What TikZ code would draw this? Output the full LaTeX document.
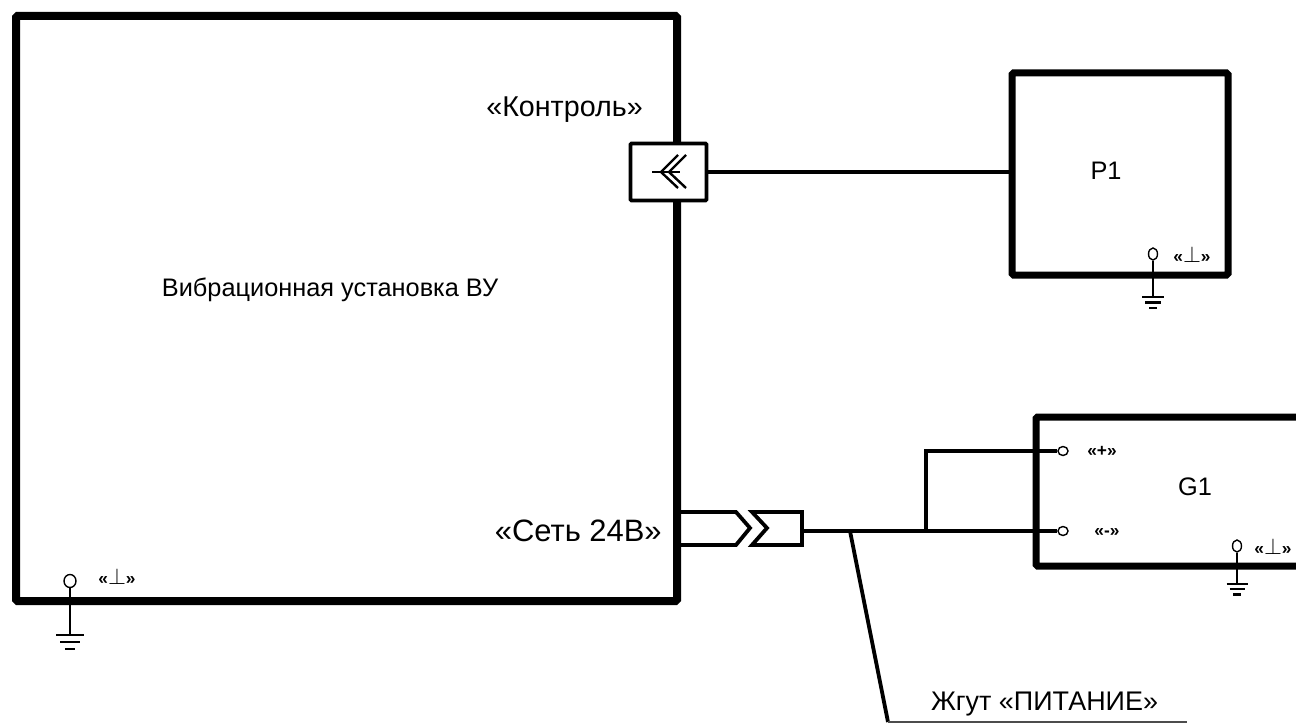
\documentclass[tikz,border=0pt]{standalone}
\usepackage{fontspec}
\usepackage{amsmath, amssymb}
\setmainfont{Liberation Sans}
\usetikzlibrary{positioning, shapes.geometric, calc}

\def\px{0.75pt}
\newcommand{\earthtag}{\textbf{«}{\fontsize{19}{19}\selectfont$\perp$}\textbf{»}}
\tikzset{
    unit/.style={draw, rectangle, line width=8*\px, rounded corners=1.5*\px},
    smallunit/.style={unit, line width=7*\px},
    wire/.style={line width=3.8*\px},
    thinwire/.style={line width=1.4*\px},
    terminal/.style={draw, ellipse, fill=white, inner sep=0pt, line width=1.4*\px},
    caption/.style={font=\fontsize{19}{22}\selectfont, inner sep=0pt},
    largecaption/.style={font=\fontsize{21.5}{24}\selectfont, inner sep=0pt},
    tag/.style={font=\fontsize{13}{15}\selectfont, inner sep=0pt}
}

\begin{document}
\begin{tikzpicture}[x=0.75pt, y=-0.75pt, line join=miter]
    \useasboundingbox (0,0) rectangle (1296,724);

    % Units
    \node[unit, minimum width=661*\px, minimum height=585*\px] (vu) at (346.5,308.5) {};
    \node[smallunit, minimum width=216*\px, minimum height=202*\px] (p1box) at (1120,174) {};
    \node[smallunit, minimum width=274*\px, minimum height=149*\px] (g1box) at (1173,491.5) {};

    % Unit labels
    \node[caption] (vulabel) at (330,290) {Вибрационная установка ВУ};
    \node[largecaption, anchor=east] (control) at (643,110) {«Контроль»};
    \node[largecaption, font=\fontsize{23.2}{26}\selectfont, anchor=east] (mains) at (662,531) {«Сеть 24В»};
    \node[caption] (p1label) at (1106,171) {P1};
    \node[caption] (g1label) at (1195,487) {G1};

    % Socket on the wall
    \node[draw, rectangle, fill=white, line width=3.8*\px, rounded corners=1*\px,
        minimum width=76*\px, minimum height=57*\px] (socket) at (668.5,172) {};
    \draw[line width=2.4*\px] (652,172) -- (680,172);
    \draw[line width=2.4*\px] (678,155) -- (661,172) -- (678,188);
    \draw[line width=2.4*\px] (686,155) -- (669,172) -- (686,188);
    \draw[wire] (socket.east) -- (socket.east -| p1box.west);

    % Plug pair
    \coordinate (plugend) at (802,531);
    \draw[wire] (vu.east |- 0,512) -- (736,512) -- (750,528) -- (736,545) -- (vu.east |- 0,545);
    \draw[wire] (752,512) -- (767,528) -- (752,545) -- (802,545) -- (802,512) -- cycle;

    % Power terminals
    \node[terminal, minimum width=10*\px, minimum height=9*\px] (plus) at (1063,451) {};
    \node[terminal, minimum width=10*\px, minimum height=9*\px] (minus) at (1063,531) {};
    \node[tag] (pluslabel) at (1102,451) {\textbf{«+»}};
    \node[tag] (minuslabel) at (1107,533) {\textbf{«-»}};

    % Wires to the supply
    \coordinate (branch) at (926,531);
    \draw[wire] (plugend) -- (minus);
    \draw[wire] (branch) -- (branch |- plus) -- (plus);

    % Harness leader
    \coordinate (leadtop) at (850,531);
    \coordinate (leadbot) at (888,722);
    \coordinate (leadend) at (1187,722);
    \draw[wire] (leadtop) -- (leadbot);
    \draw[thinwire, black!70] (leadbot) -- (leadend);
    \node[largecaption, font=\fontsize{20.2}{24}\selectfont, anchor=base] (harness) at (1044.5,710) {Жгут «ПИТАНИЕ»};

    % Earth marks
    \foreach \n/\x/\y/\w/\h/\b/\s in {a/70/581/12/13/635/28, b/1153/254/9/12/297/22, c/1237/546/9/12/584/21} {
        \node[terminal, minimum width=\w*\px, minimum height=\h*\px] (term\n) at (\x,\y) {};
        \coordinate (earth\n) at (\x,\b);
        \draw[thinwire] (term\n) -- (earth\n);
        \draw[line width=2.4*\px] ($(earth\n)+(-\s/2,0)$) -- ($(earth\n)+(\s/2,0)$);
        \draw[line width=2.4*\px] ($(earth\n)+(-\s/2.8,\s/4)$) -- ($(earth\n)+(\s/2.8,\s/4)$);
        \draw[line width=2.4*\px] ($(earth\n)+(-\s/5.5,\s/2)$) -- ($(earth\n)+(\s/5.5,\s/2)$);
    }
    \node[tag] (taga) at (117,576) {\earthtag};
    \node[tag] (tagb) at (1192,254) {\earthtag};
    \node[tag] (tagc) at (1273,546) {\earthtag};

\end{tikzpicture}
\end{document}
